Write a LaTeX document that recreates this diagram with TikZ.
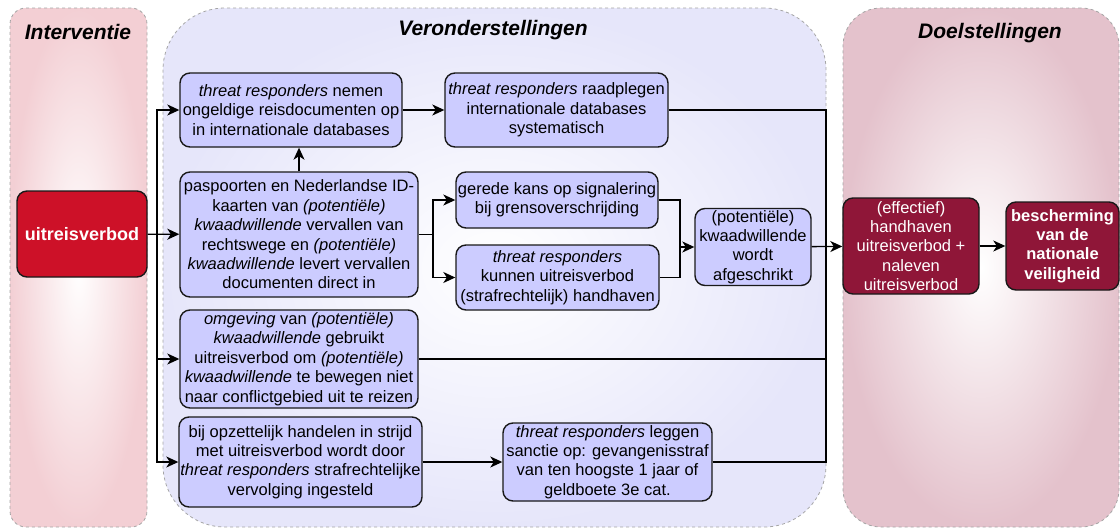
\documentclass[tikz,border=0pt]{standalone}
\usepackage{fontspec}
\setmainfont{Liberation Sans}
\usetikzlibrary{arrows.meta, positioning, shapes}

\definecolor{blokblauw}{RGB}{204,204,255}
\definecolor{interrood}{RGB}{205,17,40}
\definecolor{doelrood}{RGB}{143,22,56}
\definecolor{rozerand}{RGB}{243,207,212}
\definecolor{lilarand}{RGB}{230,230,250}
\definecolor{mauverand}{RGB}{228,194,204}
\definecolor{randgrijs}{RGB}{165,165,165}

\tikzset{
	kolom/.style = {draw = randgrijs, dashed, line width = 0.8pt, inner sep = 0pt, inner color = white},
	kop/.style = {font = \fontsize{21}{25}\selectfont\bfseries\itshape},
	aanname/.style = {draw = black!90, fill = blokblauw, line width = 1.4pt, rounded corners = 10pt, align = center, inner sep = 0pt},
	rood/.style = {aanname, fill = interrood, text = white, font = \fontsize{18}{21}\selectfont\bfseries},
	doel/.style = {aanname, fill = doelrood, text = white},
	lijn/.style = {line width = 1.3pt},
	pijl/.style = {lijn, -{Stealth[length = 12pt, width = 11pt, inset = 3.5pt]}}
}

\begin{document}
\begin{tikzpicture}[x = 1pt, y = -1pt, font = \fontsize{16.5}{19.4}\selectfont]
	\useasboundingbox (0, 0) rectangle (1120, 530);

	% kolommen
	\node[kolom, outer color = rozerand, rounded corners = 16pt, minimum width = 137pt, minimum height = 519pt] (interventie) at (78.5, 267.5) {};
	\node[kolom, outer color = lilarand, rounded corners = 62pt, minimum width = 663pt, minimum height = 519pt] (veron) at (494.5, 267.5) {};
	\node[kolom, outer color = mauverand, rounded corners = 38pt, minimum width = 276pt, minimum height = 519pt] (doelst) at (981, 267.5) {};

	\node[kop] (t1) at (78, 32) {Interventie};
	\node[kop] (t2) at (493, 30) {Veronderstellingen};
	\node[kop] (t3) at (990, 33) {Doelstellingen};

	% interventie
	\node[rood, minimum width = 130pt, minimum height = 86pt] (uit) at (82, 234) {uitreisverbod};

	% veronderstellingen
	\node[aanname, minimum width = 222pt, minimum height = 74pt] (A) at (291, 110) {\textit{threat responders} nemen\\ongeldige reisdocumenten op\\in internationale databases};
	\node[aanname, minimum width = 223pt, minimum height = 74pt] (B) at (556.5, 110) {\textit{threat responders} raadplegen\\internationale databases\\systematisch};
	\node[aanname, minimum width = 238pt, minimum height = 125pt] (C) at (299, 234.5) {paspoorten en Nederlandse ID-\\kaarten van \textit{(potentiële)}\\\textit{kwaadwillende} vervallen van\\rechtswege en \textit{(potentiële)}\\\textit{kwaadwillende} levert vervallen\\documenten direct in};
	\node[aanname, minimum width = 202pt, minimum height = 56pt] (D) at (557, 200) {gerede kans op signalering\\bij grensoverschrijding};
	\node[aanname, minimum width = 203pt, minimum height = 65pt] (E) at (557.5, 277.5) {\textit{threat responders}\\kunnen uitreisverbod\\(strafrechtelijk) handhaven};
	\node[aanname, minimum width = 116pt, minimum height = 77pt] (F) at (753, 247) {(potentiële)\\kwaadwillende\\wordt\\afgeschrikt};
	\node[aanname, minimum width = 238pt, minimum height = 98pt] (G) at (299, 359) {\textit{omgeving} van \textit{(potentiële)}\\\textit{kwaadwillende} gebruikt\\uitreisverbod om \textit{(potentiële)}\\\textit{kwaadwillende} te bewegen niet\\naar conflictgebied uit te reizen};
	\node[aanname, minimum width = 243pt, minimum height = 90pt] (H) at (300.5, 462) {bij opzettelijk handelen in strijd\\met uitreisverbod wordt door\\\textit{threat responders} strafrechtelijke\\vervolging ingesteld};
	\node[aanname, minimum width = 209pt, minimum height = 78pt] (I) at (607.5, 462) {\textit{threat responders} leggen\\sanctie op: gevangenisstraf\\van ten hoogste 1 jaar of\\geldboete 3e cat.};

	% doelstellingen
	\node[doel, minimum width = 136pt, minimum height = 96pt] (J) at (911, 246) {(effectief)\\handhaven\\uitreisverbod +\\naleven\\uitreisverbod};
	\node[doel, font = \fontsize{16.5}{19.4}\selectfont\bfseries, minimum width = 113pt, minimum height = 88pt] (K) at (1062.5, 246) {bescherming\\van de\\nationale\\veiligheid};

	\coordinate (links) at (157, 234);
	\coordinate (splits) at (433, 234.5);
	\coordinate (samen) at (680, 247);
	\coordinate (rechts) at (826, 247);

	\draw[pijl] (uit) -- (C);
	\draw[pijl] (links) |- (A);
	\draw[pijl] (links) |- (G);
	\draw[pijl] (links) |- (H);

	\draw[pijl] (C.north) -- (C.north |- A.south);
	\draw[pijl] (A) -- (B);
	\draw[lijn] (C.east) -- (splits);
	\draw[pijl] (splits) |- (D);
	\draw[pijl] (splits) |- (E);
	\draw[lijn] (D.east) -| (samen);
	\draw[lijn] (E.east) -| (samen);
	\draw[pijl] (samen) -- (F);
	\draw[pijl] (H) -- (I);

	\draw[lijn] (B.east) -| (rechts);
	\draw[lijn] (G.east) -| (rechts);
	\draw[lijn] (I.east) -| (rechts);
	\draw[pijl] (F) -- (J);
	\draw[pijl] (J) -- (K);

\end{tikzpicture}
\end{document}
